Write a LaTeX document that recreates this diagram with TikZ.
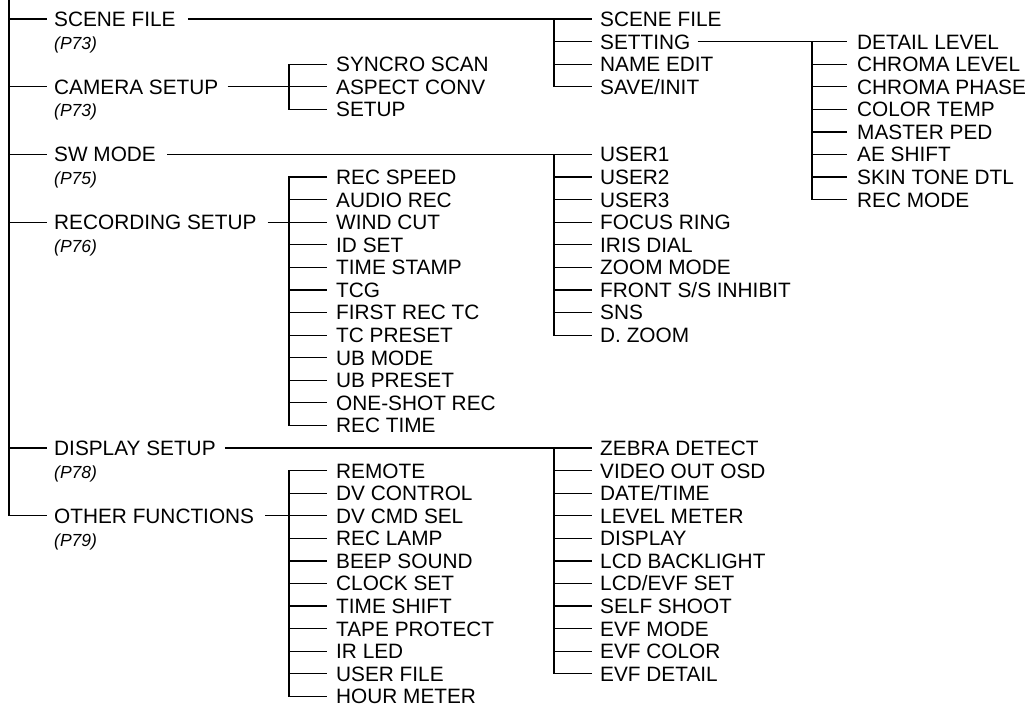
\documentclass[tikz,border=0pt]{standalone}
\usepackage{fontspec}
\setmainfont{Liberation Sans}
\newcommand\mfont{\fontsize{20.8}{24}\selectfont}
\newcommand\rfont{\fontsize{17.5}{20}\selectfont\itshape}
\begin{document}
\begin{tikzpicture}[x=1pt,y=-1pt,
  lbl/.style={anchor=west, inner sep=0pt, font=\mfont, text height=14.9pt, text depth=0pt},
  pref/.style={anchor=west, inner sep=0pt, font=\rfont, text height=12.5pt, text depth=0pt},
  wire/.style={line width=1.2pt, draw=black}]
\useasboundingbox (0,0) rectangle (1031,707);
\def\ry#1{19+22.58*#1}
% root
\coordinate (root) at (9,0);
% level 1
\node[lbl] (scene) at (54,{\ry{0}}) {SCENE FILE};
\node[pref] (p1) at (54,{\ry{0}+24}) {(P73)};
\node[lbl] (cam) at (54,{\ry{3}}) {CAMERA SETUP};
\node[pref] (p2) at (54,{\ry{3}+24}) {(P73)};
\node[lbl] (sw) at (54,{\ry{6}}) {SW MODE};
\node[pref] (p3) at (54,{\ry{6}+24}) {(P75)};
\node[lbl] (rec) at (54,{\ry{9}}) {RECORDING SETUP};
\node[pref] (p4) at (54,{\ry{9}+24}) {(P76)};
\node[lbl] (disp) at (54,{\ry{19}}) {DISPLAY SETUP};
\node[pref] (p5) at (54,{\ry{19}+24}) {(P78)};
\node[lbl] (oth) at (54,{\ry{22}}) {OTHER FUNCTIONS};
\node[pref] (p6) at (54,{\ry{22}+24}) {(P79)};
\foreach \n in {scene,cam,sw,rec,disp,oth}
  \draw[wire] (root) |- ([xshift=-7pt]\n.west);

% CAMERA SETUP children (column A)
\foreach \n/\t [count=\k from 2] in {ca1/SYNCRO SCAN, ca2/ASPECT CONV, ca3/SETUP}
  \node[lbl] (\n) at (336,{\ry{\k}}) {\t};
\draw[wire] ([xshift=9pt]cam.east) -- ([xshift=-9pt]ca2.west);
\draw[wire] ([xshift=-9pt]ca1.west) -| ([xshift=-47pt]ca3.west) -- ([xshift=-9pt]ca3.west);

% RECORDING SETUP children (column A)
\foreach \n/\t [count=\k from 7] in {ra1/REC SPEED, ra2/AUDIO REC, ra3/WIND CUT, ra4/ID SET, ra5/TIME STAMP, ra6/TCG, ra7/FIRST REC TC, ra8/TC PRESET, ra9/UB MODE, ra10/UB PRESET, ra11/ONE-SHOT REC, ra12/REC TIME}
  \node[lbl] (\n) at (336,{\ry{\k}}) {\t};
\draw[wire] ([xshift=11pt]rec.east) -- ([xshift=-9pt]ra3.west);
\draw[wire] ([xshift=-9pt]ra1.west) -| ([xshift=-47pt]ra12.west) -- ([xshift=-9pt]ra12.west);
\foreach \n in {ra2,ra4,ra5,ra6,ra7,ra8,ra9,ra10,ra11}
  \draw[wire] ([xshift=-47pt]\n.west) -- ([xshift=-9pt]\n.west);

% OTHER FUNCTIONS children (column A)
\foreach \n/\t [count=\k from 20] in {oa1/REMOTE, oa2/DV CONTROL, oa3/DV CMD SEL, oa4/REC LAMP, oa5/BEEP SOUND, oa6/CLOCK SET, oa7/TIME SHIFT, oa8/TAPE PROTECT, oa9/IR LED, oa10/USER FILE, oa11/HOUR METER}
  \node[lbl] (\n) at (336,{\ry{\k}}) {\t};
\draw[wire] ([xshift=11pt]oth.east) -- ([xshift=-9pt]oa3.west);
\draw[wire] ([xshift=-9pt]oa1.west) -| ([xshift=-47pt]oa11.west) -- ([xshift=-9pt]oa11.west);
\foreach \n in {oa2,oa4,oa5,oa6,oa7,oa8,oa9,oa10}
  \draw[wire] ([xshift=-47pt]\n.west) -- ([xshift=-9pt]\n.west);

% SCENE FILE children (column B)
\foreach \n/\t [count=\k from 0] in {sb1/SCENE FILE, sb2/SETTING, sb3/NAME EDIT, sb4/{SAVE/INIT}}
  \node[lbl] (\n) at (600,{\ry{\k}}) {\t};
\draw[wire] ([xshift=12pt]scene.east) -- ([xshift=-8pt]sb1.west);
\draw[wire] ([xshift=-46pt]sb1.west) |- ([xshift=-8pt]sb4.west);
\foreach \n in {sb2,sb3}
  \draw[wire] ([xshift=-46pt]\n.west) -- ([xshift=-8pt]\n.west);

% SW MODE children (column B)
\foreach \n/\t [count=\k from 6] in {wb1/USER1, wb2/USER2, wb3/USER3, wb4/FOCUS RING, wb5/IRIS DIAL, wb6/ZOOM MODE, wb7/{FRONT S/S INHIBIT}, wb8/SNS, wb9/D. ZOOM}
  \node[lbl] (\n) at (600,{\ry{\k}}) {\t};
\draw[wire] ([xshift=11pt]sw.east) -- ([xshift=-8pt]wb1.west);
\draw[wire] ([xshift=-46pt]wb1.west) |- ([xshift=-8pt]wb9.west);
\foreach \n in {wb2,wb3,wb4,wb5,wb6,wb7,wb8}
  \draw[wire] ([xshift=-46pt]\n.west) -- ([xshift=-8pt]\n.west);

% DISPLAY SETUP children (column B)
\foreach \n/\t [count=\k from 19] in {db1/ZEBRA DETECT, db2/VIDEO OUT OSD, db3/{DATE/TIME}, db4/LEVEL METER, db5/DISPLAY, db6/LCD BACKLIGHT, db7/{LCD/EVF SET}, db8/SELF SHOOT, db9/EVF MODE, db10/EVF COLOR, db11/EVF DETAIL}
  \node[lbl] (\n) at (600,{\ry{\k}}) {\t};
\draw[wire] ([xshift=9pt]disp.east) -- ([xshift=-8pt]db1.west);
\draw[wire] ([xshift=-46pt]db1.west) |- ([xshift=-8pt]db11.west);
\foreach \n in {db2,db3,db4,db5,db6,db7,db8,db9,db10}
  \draw[wire] ([xshift=-46pt]\n.west) -- ([xshift=-8pt]\n.west);

% SETTING children (column C)
\foreach \n/\t [count=\k from 1] in {tc1/DETAIL LEVEL, tc2/CHROMA LEVEL, tc3/CHROMA PHASE, tc4/COLOR TEMP, tc5/MASTER PED, tc6/AE SHIFT, tc7/SKIN TONE DTL, tc8/REC MODE}
  \node[lbl] (\n) at (857,{\ry{\k}}) {\t};
\draw[wire] ([xshift=7pt]sb2.east) -- ([xshift=-10pt]tc1.west);
\draw[wire] ([xshift=-45pt]tc1.west) |- ([xshift=-10pt]tc8.west);
\foreach \n in {tc2,tc3,tc4,tc5,tc6,tc7}
  \draw[wire] ([xshift=-45pt]\n.west) -- ([xshift=-10pt]\n.west);
\end{tikzpicture}
\end{document}
